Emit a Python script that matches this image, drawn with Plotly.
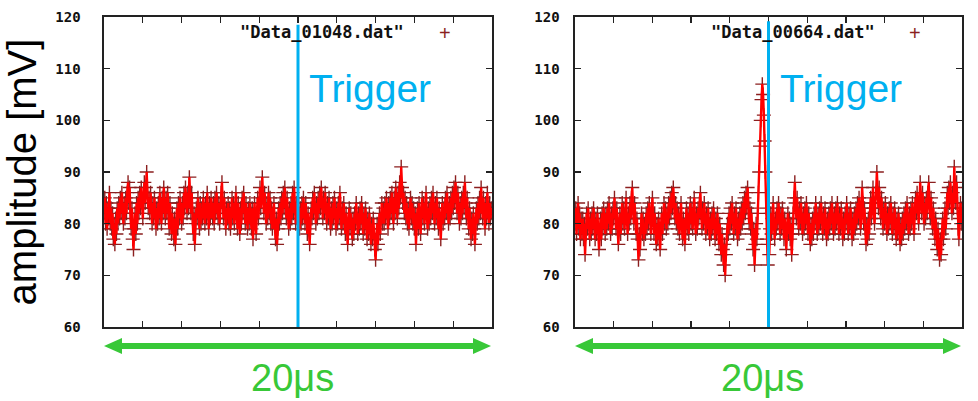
import plotly.graph_objects as go

# ---------------- data ----------------
amp_01048 = [
    82, 85, 80, 84, 79, 83, 81, 86, 80, 83,
    79, 82, 77, 80, 76, 81, 78, 83, 80, 84,
    81, 85, 82, 86, 83, 80, 84, 81, 85, 82,
    86, 88, 84, 87, 82, 79, 83, 77, 75, 79,
    82, 78, 84, 80, 85, 82, 86, 83, 87, 84,
    81, 85, 88, 84, 87, 90, 86, 83, 85, 82,
    86, 83, 80, 84, 81, 85, 82, 79, 83, 80,
    84, 81, 86, 83, 80, 85, 82, 87, 84, 81,
    85, 82, 86, 83, 79, 84, 81, 78, 82, 80,
    77, 81, 76, 80, 83, 79, 84, 81, 85, 82,
    80, 84, 81, 86, 83, 87, 84, 82, 86, 83,
    89, 85, 82, 86, 81, 78, 82, 76, 80, 83,
    81, 85, 82, 79, 84, 80, 83, 81, 85, 82,
    80, 84, 81, 86, 82, 79, 84, 81, 85, 83,
    81, 84, 80, 85, 82, 86, 83, 81, 84, 80,
    83, 86, 88, 84, 81, 85, 82, 79, 83, 81,
    84, 80, 83, 79, 82, 85, 81, 84, 80, 83,
    86, 82, 79, 84, 81, 78, 83, 80, 85, 82,
    86, 83, 80, 84, 81, 79, 83, 80, 84, 82,
    79, 83, 77, 81, 84, 80, 78, 82, 85, 81,
    84, 87, 83, 86, 89, 85, 82, 86, 83, 80,
    84, 81, 86, 82, 85, 80, 83, 79, 82, 84,
    80, 77, 81, 76, 79, 83, 80, 84, 81, 85,
    82, 86, 83, 87, 84, 81, 85, 82, 79, 83,
    80, 84, 81, 86, 82, 87, 83, 80, 84, 81,
    85, 82, 79, 83, 80, 84, 81, 85, 82, 80,
    84, 81, 78, 82, 79, 76, 80, 83, 81, 85,
    82, 86, 83, 80, 84, 81, 85, 82, 86, 83,
    87, 84, 81, 85, 82, 86, 83, 80, 84, 81,
    85, 82, 79, 83, 80, 84, 81, 85, 82, 79,
    83, 80, 84, 81, 86, 82, 79, 83, 80, 84,
    81, 78, 82, 79, 76, 80, 83, 79, 82, 80,
    77, 81, 78, 82, 80, 84, 81, 78, 82, 79,
    83, 80, 84, 81, 78, 82, 79, 83, 80, 77,
    81, 78, 82, 79, 76, 80, 77, 81, 78, 75,
    73, 77, 80, 76, 79, 82, 78, 81, 84, 80,
    83, 80, 84, 81, 85, 82, 79, 84, 81, 85,
    82, 86, 83, 80, 85, 82, 87, 84, 81, 86,
    83, 88, 85, 91, 87, 84, 86, 82, 85, 81,
    84, 80, 83, 79, 82, 85, 81, 84, 80, 83,
    79, 82, 76, 80, 83, 79, 84, 81, 78, 82,
    85, 81, 84, 80, 83, 86, 82, 79, 83, 80,
    84, 81, 85, 82, 86, 83, 80, 84, 81, 85,
    82, 79, 83, 80, 77, 81, 84, 80, 83, 81,
    85, 82, 86, 83, 80, 84, 81, 85, 82, 86,
    83, 87, 84, 88, 85, 82, 86, 83, 80, 84,
    81, 85, 82, 86, 83, 88, 84, 81, 85, 82,
    79, 83, 80, 77, 81, 78, 82, 79, 76, 80,
    83, 80, 84, 81, 85, 82, 87, 84, 81, 85,
    82, 79, 84, 81, 86, 83, 80, 84, 81, 83,
    82,
]

amp_00664 = [
    80, 83, 78, 82, 84, 79, 82, 77, 81, 78,
    81, 77, 80, 74, 78, 82, 79, 83, 80, 77,
    81, 78, 82, 79, 83, 80, 77, 81, 78, 82,
    79, 75, 78, 81, 77, 82, 79, 83, 80, 78,
    82, 79, 83, 80, 84, 81, 78, 82, 79, 83,
    81, 85, 82, 79, 83, 80, 76, 79, 82, 78,
    81, 84, 80, 83, 79, 82, 85, 81, 78, 82,
    80, 84, 81, 85, 87, 83, 80, 84, 81, 78,
    81, 77, 73, 78, 75, 79, 82, 78, 81, 77,
    80, 78, 82, 79, 83, 80, 84, 81, 78, 82,
    85, 81, 78, 82, 79, 76, 80, 77, 81, 78,
    75, 79, 82, 78, 81, 84, 80, 83, 79, 82,
    80, 84, 81, 85, 82, 86, 83, 87, 84, 81,
    84, 80, 83, 79, 82, 78, 81, 84, 80, 77,
    81, 78, 76, 80, 83, 79, 82, 78, 81, 84,
    80, 83, 79, 82, 85, 81, 78, 82, 79, 83,
    81, 84, 86, 82, 79, 83, 80, 84, 81, 78,
    82, 79, 83, 80, 77, 81, 78, 82, 79, 83,
    80, 77, 81, 78, 82, 79, 76, 80, 77, 74,
    78, 75, 72, 76, 70, 74, 77, 80, 78, 82,
    79, 83, 80, 84, 81, 78, 82, 79, 83, 80,
    77, 81, 78, 82, 79, 83, 80, 84, 81, 85,
    82, 86, 83, 87, 84, 80, 83, 79, 82, 78,
    75, 79, 72, 76, 80, 77, 82, 86, 90, 95,
    100, 104, 107, 105, 101, 96, 90, 83, 77, 72,
    76, 74, 79, 82, 78, 81, 84, 80, 77, 81,
    79, 83, 80, 84, 81, 78, 82, 79, 83, 80,
    77, 81, 78, 75, 79, 82, 78, 81, 77, 80,
    74, 78, 82, 85, 88, 84, 81, 85, 82, 79,
    83, 80, 84, 81, 78, 82, 79, 83, 80, 84,
    81, 78, 82, 79, 76, 80, 77, 81, 78, 82,
    80, 84, 81, 78, 82, 79, 83, 80, 84, 81,
    78, 82, 79, 83, 80, 77, 81, 78, 82, 79,
    83, 80, 84, 81, 78, 82, 79, 83, 80, 84,
    81, 78, 82, 79, 83, 80, 77, 81, 78, 82,
    80, 84, 81, 78, 82, 79, 83, 80, 77, 81,
    78, 82, 79, 83, 80, 84, 81, 85, 82, 79,
    83, 87, 84, 80, 83, 79, 76, 80, 77, 81,
    78, 82, 85, 81, 84, 87, 83, 80, 84, 86,
    90, 86, 83, 87, 84, 81, 85, 82, 79, 83,
    80, 84, 81, 78, 82, 79, 83, 80, 84, 81,
    78, 82, 79, 83, 80, 77, 81, 78, 82, 79,
    76, 80, 77, 81, 78, 82, 79, 83, 80, 84,
    81, 78, 82, 79, 83, 80, 84, 81, 78, 82,
    85, 82, 86, 83, 80, 84, 88, 85, 82, 86,
    83, 80, 84, 81, 85, 82, 86, 88, 84, 81,
    85, 82, 79, 83, 80, 77, 81, 78, 75, 79,
    76, 73, 77, 74, 78, 81, 77, 80, 83, 79,
    82, 86, 83, 87, 84, 88, 85, 82, 86, 83,
    91, 87, 84, 88, 83, 79, 77, 81, 84, 80,
    83,
]

# sample times (μs) for the 20 μs window, trigger at 0
n_01048 = len(amp_01048)
n_00664 = len(amp_00664)
time_01048 = [-10 + 20 * i / (n_01048 - 1) for i in range(n_01048)]
time_00664 = [-10 + 20 * i / (n_00664 - 1) for i in range(n_00664)]

file_names = ['"Data_01048.dat"', '"Data_00664.dat"']
y_ticks = [60, 70, 80, 90, 100, 110, 120]
x_ticks = [-10, -8, -6, -4, -2, 0, 2, 4, 6, 8, 10]
trigger_time = 0
trigger_label = "Trigger"
span_label = "20μs"
y_title = "amplitude [mV]"

# ---------------- style ----------------
W, H = 978, 401
LINE_RED = "#ff0000"
MARK_RED = "#8b1f1f"
BLUE = "#00b0f0"
GREEN = "#38c838"
MONO = "DejaVu Sans Mono"
SANS = "Liberation Sans, Arial, sans-serif"


def px(x):
    return x / W


def py(y):
    return 1 - y / H


panels = [
    dict(x0=104, x1=492, xa="x", ya="y", t=time_01048, data=amp_01048,
         name=file_names[0], trig_top=118.5, standoff=19),
    dict(x0=575, x1=962, xa="x2", ya="y2", t=time_00664, data=amp_00664,
         name=file_names[1], trig_top=119.2, standoff=11),
]

fig = go.Figure()
shapes = []
annotations = []

for i, p in enumerate(panels):
    fig.add_trace(go.Scatter(
        x=p["t"], y=p["data"], xaxis=p["xa"], yaxis=p["ya"], mode="markers",
        marker=dict(symbol="cross-thin", size=10, color=MARK_RED,
                    line=dict(color=MARK_RED, width=1.4)),
        showlegend=False, hoverinfo="skip"))
    fig.add_trace(go.Scatter(
        x=p["t"], y=p["data"], xaxis=p["xa"], yaxis=p["ya"], mode="lines",
        line=dict(color=LINE_RED, width=2.4), showlegend=False,
        name=p["name"]))

    sfx = "" if i == 0 else "2"
    fig.update_layout(**{
        "xaxis" + sfx: dict(
            domain=[px(p["x0"]), px(p["x1"])], range=[-10, 10],
            tickvals=x_ticks, showticklabels=False, ticks="inside", ticklen=6,
            tickwidth=1.3, tickcolor="#222", showline=True, linecolor="#222",
            linewidth=1.6, mirror="allticks", showgrid=False, zeroline=False,
            anchor="y" + sfx, fixedrange=True, automargin=False),
        "yaxis" + sfx: dict(
            domain=[py(327), py(17)], range=[60, 120], tickvals=y_ticks,
            ticks="inside", ticklen=6, tickwidth=1.3, tickcolor="#222",
            showline=True, linecolor="#222", linewidth=1.6, mirror="allticks",
            showgrid=False, zeroline=False, anchor="x" + sfx,
            ticklabelstandoff=p["standoff"], automargin=False,
            tickfont=dict(family=MONO, size=14, color="#111", weight="bold"),
            fixedrange=True),
    })

    # trigger line
    shapes.append(dict(type="line", xref=p["xa"], yref=p["ya"],
                       x0=trigger_time, x1=trigger_time, y0=60, y1=p["trig_top"],
                       line=dict(color=BLUE, width=3), layer="above"))

    # double-headed green arrow spanning the panel
    ay = 346
    a0, a1 = p["x0"], p["x1"] - 1
    head, half = 18, 8
    shapes.append(dict(type="line", xref="paper", yref="paper",
                       x0=px(a0 + head - 2), x1=px(a1 - head + 2),
                       y0=py(ay), y1=py(ay), line=dict(color=GREEN, width=6)))
    for tip, base in ((a0, a0 + head), (a1, a1 - head)):
        path = (f"M {px(tip)} {py(ay)} L {px(base)} {py(ay - half)} "
                f"L {px(base)} {py(ay + half)} Z")
        shapes.append(dict(type="path", xref="paper", yref="paper", path=path,
                           fillcolor=GREEN, line=dict(color=GREEN, width=0)))

    mid = (p["x0"] + p["x1"]) / 2
    # legend (gnuplot style: title then sample)
    annotations.append(dict(xref="paper", yref="paper", x=px(mid + 24), y=py(32),
                            text=p["name"], showarrow=False, xanchor="center",
                            yanchor="middle",
                            font=dict(family=MONO, size=17, color="#111",
                                      weight="bold")))
    annotations.append(dict(xref="paper", yref="paper", x=px(p["x1"] - 47),
                            y=py(33), text="+", showarrow=False,
                            xanchor="center", yanchor="middle",
                            font=dict(family=SANS, size=20, color=MARK_RED)))
    # trigger label
    annotations.append(dict(xref="paper", yref="paper", x=px(mid + 9), y=py(88),
                            text=trigger_label, showarrow=False, xanchor="left",
                            yanchor="middle",
                            font=dict(family=SANS, size=39, color=BLUE)))
    # span label
    annotations.append(dict(xref="paper", yref="paper", x=px(mid - 6), y=py(378),
                            text=span_label, showarrow=False, xanchor="center",
                            yanchor="middle",
                            font=dict(family=SANS, size=38, color=GREEN)))

fig.update_layout(
    yaxis_title=dict(text=y_title, standoff=8,
                     font=dict(family=SANS, size=40, color="#000")),
)

fig.update_layout(
    width=W, height=H, autosize=False,
    margin=dict(l=0, r=0, t=0, b=0, pad=0),
    paper_bgcolor="white", plot_bgcolor="white",
    shapes=shapes, annotations=annotations, showlegend=False,
)

fig.write_html("out.html",
               config={"displayModeBar": False, "staticPlot": True},
               post_script="document.body.style.margin='0';"
                           "document.body.style.overflow='hidden';")
